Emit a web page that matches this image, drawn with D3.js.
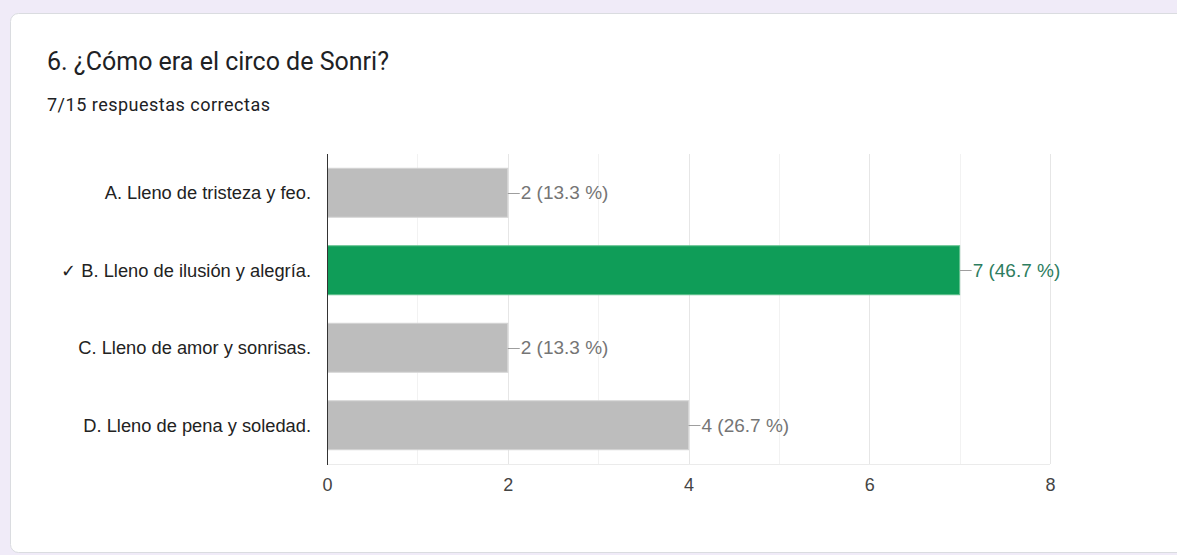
<!DOCTYPE html>
<html>
<head>
<meta charset="utf-8">
<script src="https://cdn.jsdelivr.net/npm/d3@7"></script>
<style>
  body { margin: 0; background: #f0ebf8; }
  svg { display: block; }
</style>
</head>
<body>
<div id="chart-area"></div>
<script>
const W = 1177
const H = 555

const categories = [
  "A. Lleno de tristeza y feo.",
  "✓ B. Lleno de ilusión y alegría.",
  "C. Lleno de amor y sonrisas.",
  "D. Lleno de pena y soledad."
]
const counts = [2, 7, 2, 4]
const percents = ["13.3 %", "46.7 %", "13.3 %", "26.7 %"]
const correct = [false, true, false, false]
const xTicks = [0, 2, 4, 6, 8]

const MARGIN = { LEFT: 327, RIGHT: 127, TOP: 154, BOTTOM: 91 }
const WIDTH = W - MARGIN.LEFT - MARGIN.RIGHT
const HEIGHT = H - MARGIN.TOP - MARGIN.BOTTOM

const FONT = "'Liberation Sans', Arial, sans-serif"

const svg = d3.select("#chart-area")
  .append("svg")
  .attr("width", W)
  .attr("height", H)

// card
svg.append("rect")
  .attr("x", 10.5).attr("y", 13.5)
  .attr("width", 1180).attr("height", 539)
  .attr("rx", 8)
  .attr("fill", "#fff")
  .attr("stroke", "#dadce0")

svg.append("text")
  .attr("x", 47).attr("y", 70)
  .attr("font-family", "Roboto, 'Open Sans', sans-serif")
  .attr("font-size", 25)
  .attr("fill", "#202124")
  .text("6. ¿Cómo era el circo de Sonri?")

svg.append("text")
  .attr("x", 47).attr("y", 111)
  .attr("font-family", "Roboto, sans-serif")
  .attr("font-size", 18)
  .attr("letter-spacing", 0.5)
  .attr("fill", "#202124")
  .text("7/15 respuestas correctas")

const g = svg.append("g")
  .attr("transform", `translate(${MARGIN.LEFT}, ${MARGIN.TOP})`)

const x = d3.scaleLinear()
  .domain([0, 8])
  .range([0, WIDTH])

const y = d3.scaleBand()
  .domain(categories)
  .range([0, HEIGHT])
  .paddingInner(0.355)
  .paddingOuter(0.1775)

// grid
g.selectAll(".grid")
  .data(d3.range(0, 9))
  .enter()
  .append("line")
  .attr("x1", d => Math.round(x(d)) + 0.5)
  .attr("x2", d => Math.round(x(d)) + 0.5)
  .attr("y1", 0)
  .attr("y2", HEIGHT)
  .attr("stroke", d => d % 2 == 0 ? "#e6e6e6" : "#f2f2f2")

g.append("line")
  .attr("x1", 0).attr("x2", WIDTH)
  .attr("y1", HEIGHT + 0.5).attr("y2", HEIGHT + 0.5)
  .attr("stroke", "#ebebeb")

const data = categories.map((c, i) => ({ cat: c, n: counts[i], pct: percents[i], ok: correct[i] }))

g.selectAll(".bar")
  .data(data)
  .enter()
  .append("rect")
  .attr("x", 0.5)
  .attr("y", d => y(d.cat) + 0.5)
  .attr("width", d => x(d.n) - 0.5)
  .attr("height", y.bandwidth() - 1)
  .attr("fill", d => d.ok ? "#0f9d58" : "#bdbdbd")
  .attr("stroke", d => d.ok ? "#5fc08c" : "#d4d4d4")

// leader lines + value labels
g.selectAll(".lead")
  .data(data)
  .enter()
  .append("line")
  .attr("x1", d => x(d.n))
  .attr("x2", d => x(d.n) + 12)
  .attr("y1", d => Math.round(y(d.cat) + y.bandwidth() / 2) + 0.5)
  .attr("y2", d => Math.round(y(d.cat) + y.bandwidth() / 2) + 0.5)
  .attr("stroke", "#9e9e9e")

g.selectAll(".val")
  .data(data)
  .enter()
  .append("text")
  .attr("x", d => x(d.n) + 13)
  .attr("y", d => y(d.cat) + y.bandwidth() / 2 + 6.5)
  .attr("font-family", FONT)
  .attr("font-size", 19)
  .attr("fill", d => d.ok ? "#2d7d60" : "#757575")
  .text(d => `${d.n} (${d.pct})`)

// category labels
g.selectAll(".cat")
  .data(data)
  .enter()
  .append("text")
  .attr("x", -16)
  .attr("y", d => y(d.cat) + y.bandwidth() / 2 + 6.5)
  .attr("text-anchor", "end")
  .attr("font-family", FONT)
  .attr("font-size", 18.3)
  .attr("fill", "#222")
  .text(d => d.cat)

// x axis tick labels
const xAxis = d3.axisBottom(x).tickValues(xTicks).tickSize(0).tickPadding(14)
const xAxisGroup = g.append("g")
  .attr("transform", `translate(0, ${HEIGHT})`)
  .call(xAxis)
xAxisGroup.select(".domain").remove()
xAxisGroup.selectAll("text")
  .attr("font-family", FONT)
  .attr("font-size", 18)
  .attr("fill", "#444")

// left axis line
g.append("line")
  .attr("x1", 0.5).attr("x2", 0.5)
  .attr("y1", 0).attr("y2", HEIGHT + 1)
  .attr("stroke", "#333")
</script>
</body>
</html>
